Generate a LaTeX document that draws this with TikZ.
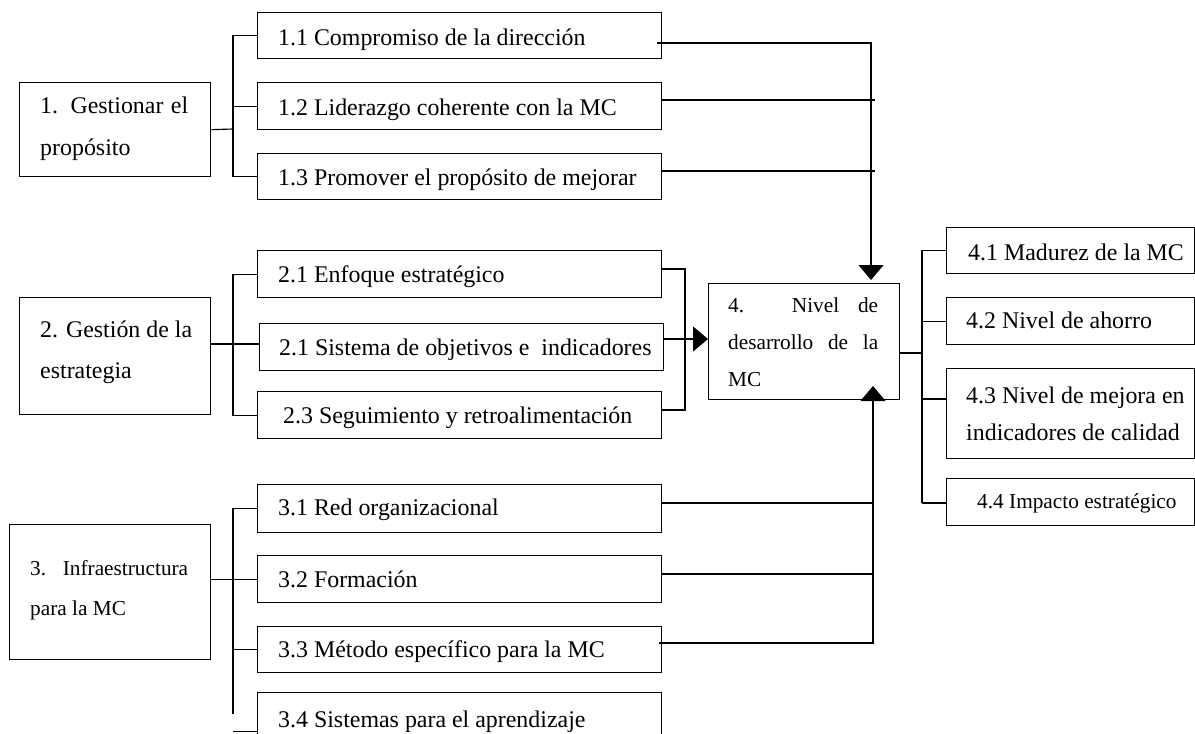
\documentclass[tikz,border=0pt]{standalone}
\usepackage{fontspec}
\setmainfont{Liberation Serif}
\usetikzlibrary{arrows.meta}

\begin{document}
\begin{tikzpicture}[x=1pt,y=-1pt,
  box/.style 2 args={draw, line width=1.3pt, anchor=north west, inner sep=0pt,
    minimum width=#1, minimum height=#2},
  lbl/.style={anchor=base west, inner sep=0pt, font=\fontsize{23.9}{28}\selectfont},
  sml/.style={anchor=base west, inner sep=0pt, font=\fontsize{21.3}{25}\selectfont},
  wire/.style={line width=1.15pt},
  tip/.style={-{Triangle[width=25pt,length=15pt]}}]

\useasboundingbox (0,0) rectangle (1195,734);
\clip (0,0) rectangle (1195,734);
\fill[white] (0,0) rectangle (1195,734);

% ---------- left column: main factors ----------
\node[box={191pt}{94pt}]  (b1) at (19,82)  {};
\node[box={191pt}{117pt}] (b2) at (19,297) {};
\node[box={201pt}{135pt}] (b3) at (9,524)  {};

\node[lbl] (t1a) at (40,113) {\makebox[148pt][s]{1. Gestionar el}};
\node[lbl] (t1b) at (40,155) {propósito};
\node[lbl] (t2a) at (40,337) {2. Gestión de la};
\node[lbl] (t2b) at (40,378) {estrategia};
\node[sml] (t3a) at (30,575) {\makebox[158pt][s]{3. Infraestructura}};
\node[sml] (t3b) at (30,615) {para la MC};

% ---------- middle column: sub-factors ----------
\node[box={404pt}{46pt}] (b11) at (257,12)  {};
\node[box={404pt}{47pt}] (b12) at (257,82)  {};
\node[box={404pt}{46pt}] (b13) at (257,153) {};
\node[box={404pt}{47pt}] (b21) at (257,250) {};
\node[box={404pt}{47pt}] (b22) at (259,323) {};
\node[box={404pt}{47pt}] (b23) at (257,391) {};
\node[box={404pt}{48pt}] (b31) at (257,484) {};
\node[box={404pt}{47pt}] (b32) at (257,555) {};
\node[box={404pt}{46pt}] (b33) at (257,626) {};
\node[box={404pt}{78pt}] (b34) at (257,692) {};

\node[lbl] (t11) at (278,45)  {1.1 Compromiso de la dirección};
\node[lbl] (t12) at (278,115) {1.2 Liderazgo coherente con la MC};
\node[lbl] (t13) at (278,185) {1.3 Promover el propósito de mejorar};
\node[lbl] (t21) at (278,282) {2.1 Enfoque estratégico};
\node[lbl] (t22) at (279,355) {2.1 Sistema de objetivos e\ \ indicadores};
\node[lbl] (t23) at (283,423) {2.3 Seguimiento y retroalimentación};
\node[lbl] (t31) at (278,515) {3.1 Red organizacional};
\node[lbl] (t32) at (278,587) {3.2 Formación};
\node[lbl] (t33) at (278,657) {3.3 Método específico para la MC};
\node[lbl] (t34) at (278,727) {3.4 Sistemas para el aprendizaje};

% ---------- result and its indicators ----------
\node[box={191pt}{116pt}] (b4)  at (708,283) {};
\node[box={248pt}{46pt}]  (b41) at (946,227) {};
\node[box={248pt}{47pt}]  (b42) at (946,297) {};
\node[box={248pt}{90pt}]  (b43) at (946,368) {};
\node[box={248pt}{47pt}]  (b44) at (946,478) {};

\node[sml] (t4a) at (728,312) {\makebox[150pt][s]{4. Nivel de}};
\node[sml] (t4b) at (728,349) {\makebox[150pt][s]{desarrollo de la}};
\node[sml] (t4c) at (728,386) {MC};
\node[lbl] (t41) at (968,260) {4.1 Madurez de la MC};
\node[lbl] (t42) at (966,328) {4.2 Nivel de ahorro};
\node[lbl] (t43a) at (966,403) {4.3 Nivel de mejora en};
\node[lbl] (t43b) at (966,440) {indicadores de calidad};
\node[sml] (t44) at (977,508) {4.4 Impacto estratégico};

% ---------- brackets from each factor to its sub-factors ----------
\coordinate (j1) at (233,129);
\draw[wire] (b1.east) -- (j1);
\draw[wire] (b11.west) -| (j1);
\draw[wire] (b13.west) -| (j1);
\draw[wire] (b12.west) -- (b12.west -| j1);

\coordinate (j2) at (233,344);
\draw[wire] (b2.east |- j2) -- (b22.west |- j2);
\draw[wire] (b21.west) -| (j2);
\draw[wire] (b23.west) -| (j2);

\coordinate (j3) at (233,714);
\draw[wire] (b31.west) -| (j3);
\draw[wire] (b3.east |- b32.west) -- (b32.west);
\draw[wire] (b33.west) -- (b33.west -| j3);
\draw[wire] (b34.west) -- (b34.west -| j3);

\coordinate (j4) at (922,503);
\draw[wire] (b4.east |- 0,353) -- (922,353);
\draw[wire] (b41.west) -| (j4);
\draw[wire] (b42.west) -- (b42.west -| j4);
\draw[wire] (b43.west |- 0,399) -- (922,399);
\draw[wire] (b44.west |- j4) -- (j4);

% ---------- flows into the result ----------
\coordinate (a1) at (871,280);
\coordinate (a3) at (873,386);
\draw[wire,tip] (657,43) -| (a1);
\draw[wire] (b12.east |- 0,100) -- (875,100);
\draw[wire] (b13.east |- 0,171) -- (875,171);

\draw[wire] (b21.east |- 0,269) -| (685,410) -- (b23.east |- 0,410);
\draw[wire,tip] (b22.east |- 0,339) -- (b4.west |- 0,339);

\draw[wire] (b31.east |- 0,503) -- (874,503);
\draw[wire] (b32.east |- 0,574) -- (874,574);
\draw[wire,tip] (659,643) -| (a3);

\end{tikzpicture}
\end{document}
